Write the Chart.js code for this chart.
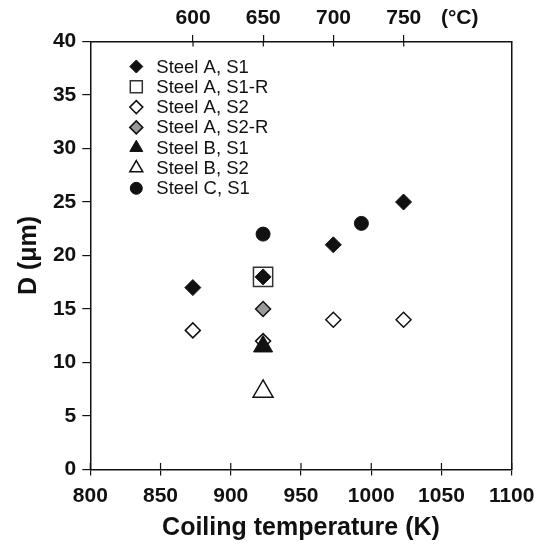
<!DOCTYPE html>
<html>
<head>
<meta charset="utf-8">
<script src="https://cdn.jsdelivr.net/npm/chart.js@4/dist/chart.umd.min.js"></script>
<style>
  html, body { margin: 0; padding: 0; background: #fff; }
  #wrap { width: 536px; height: 545px; position: relative; }
</style>
</head>
<body>
<div id="wrap"><canvas id="c"></canvas></div>
<script>
// data (x in K, y in micrometres)
var seriesNames = ['Steel A, S1', 'Steel A, S1-R', 'Steel A, S2', 'Steel A, S2-R',
                   'Steel B, S1', 'Steel B, S2', 'Steel C, S1'];
var steelA_S1_x = [873, 923, 973, 1023];
var steelA_S1_y = [17, 18, 21, 25];
var steelA_S1R_x = [923];
var steelA_S1R_y = [18];
var steelA_S2_x = [873, 923, 973, 1023];
var steelA_S2_y = [13, 12, 14, 14];
var steelA_S2R_x = [923];
var steelA_S2R_y = [15];
var steelB_S1_x = [923];
var steelB_S1_y = [11.5];
var steelB_S2_x = [923];
var steelB_S2_y = [7.3];
var steelC_S1_x = [923, 993];
var steelC_S1_y = [22, 23];

var bottomTicks = [800, 850, 900, 950, 1000, 1050, 1100];
var leftTicks = [0, 5, 10, 15, 20, 25, 30, 35, 40];
var topTicksC = [600, 650, 700, 750];
var topUnit = '(°C)';

function pts(xs, ys) {
  return xs.map(function (x, i) { return { x: x, y: ys[i] }; });
}

var FONT = "'Liberation Sans', Arial, Helvetica, sans-serif";
var INK = '#111';

// dataset 0 ends up on top, so the order here is the stacking order
var datasets = [
  { label: seriesNames[1], data: pts(steelA_S1R_x, steelA_S1R_y), pointStyle: 'rect', pointRadius: 13.6,
    backgroundColor: 'rgba(0,0,0,0)', borderColor: '#333', borderWidth: 1.5, legendRadius: 8.5 },
  { label: seriesNames[0], data: pts(steelA_S1_x, steelA_S1_y), pointStyle: 'rectRot', pointRadius: 8,
    backgroundColor: INK, borderColor: INK, borderWidth: 1, legendRadius: 6.5 },
  { label: seriesNames[4], data: pts(steelB_S1_x, steelB_S1_y), pointStyle: 'triangle', pointRadius: 11,
    backgroundColor: INK, borderColor: INK, borderWidth: 1, legendRadius: 7.5 },
  { label: seriesNames[2], data: pts(steelA_S2_x, steelA_S2_y), pointStyle: 'rectRot', pointRadius: 7.5,
    backgroundColor: '#fff', borderColor: INK, borderWidth: 1.5, legendRadius: 6.5 },
  { label: seriesNames[3], data: pts(steelA_S2R_x, steelA_S2R_y), pointStyle: 'rectRot', pointRadius: 7.5,
    backgroundColor: '#999', borderColor: INK, borderWidth: 1.5, legendRadius: 6.5 },
  { label: seriesNames[5], data: pts(steelB_S2_x, steelB_S2_y), pointStyle: 'triangle', pointRadius: 11.5,
    backgroundColor: '#fff', borderColor: INK, borderWidth: 1.5, legendRadius: 7.5 },
  { label: seriesNames[6], data: pts(steelC_S1_x, steelC_S1_y), pointStyle: 'circle', pointRadius: 7,
    backgroundColor: INK, borderColor: INK, borderWidth: 1, legendRadius: 6 }
];
datasets.forEach(function (d) { d.pointHoverRadius = d.pointRadius; });

// legend drawn inside the plot, in the original order
var insideLegend = {
  id: 'insideLegend',
  afterDraw: function (chart) {
    var ctx = chart.ctx;
    var area = chart.chartArea;
    var x0 = area.left + 46, y0 = area.top + 25, step = 20.3;
    ctx.save();
    ctx.font = '18.5px ' + FONT;
    ctx.textBaseline = 'middle';
    seriesNames.forEach(function (name, i) {
      var ds = chart.data.datasets.find(function (d) { return d.label === name; });
      var y = y0 + i * step;
      ctx.fillStyle = ds.backgroundColor;
      ctx.strokeStyle = ds.borderColor;
      ctx.lineWidth = ds.borderWidth;
      Chart.helpers.drawPoint(ctx, { pointStyle: ds.pointStyle, radius: ds.legendRadius, rotation: 0, borderWidth: ds.borderWidth }, x0, y);
      ctx.fillStyle = INK;
      ctx.fillText(name, x0 + 20, y + 1);
    });
    ctx.restore();
  }
};

// the x ticks cross the frame: draw the inner part of each one
var innerTicks = {
  id: 'innerTicks',
  afterDraw: function (chart) {
    var ctx = chart.ctx;
    var area = chart.chartArea;
    ctx.save();
    ctx.strokeStyle = INK;
    ctx.lineWidth = 1.2;
    ctx.beginPath();
    chart.scales.x.ticks.forEach(function (t) {
      var px = chart.scales.x.getPixelForValue(t.value);
      ctx.moveTo(px, area.bottom);
      ctx.lineTo(px, area.bottom - 6.5);
    });
    topValuesK.forEach(function (v) {
      var px = chart.scales.x2.getPixelForValue(v);
      ctx.moveTo(px, area.top);
      ctx.lineTo(px, area.top + 5);
    });
    ctx.stroke();
    ctx.restore();
  }
};

var topValuesK = topTicksC.map(function (c) { return c + 273.15; });
var unitPosK = 1063;

// fixed box sizes, and no extra side padding for the end labels
function fitH(h) {
  return function (s) { s.height = h; s.paddingLeft = 0; s.paddingRight = 0; };
}

new Chart(document.getElementById('c'), {
  type: 'scatter',
  data: { datasets: datasets },
  options: {
    responsive: true,
    maintainAspectRatio: false,
    animation: false,
    layout: { padding: 0 },
    plugins: { legend: { display: false }, tooltip: { enabled: false } },
    scales: {
      x: {
        type: 'linear', position: 'bottom', min: 800, max: 1100,
        afterBuildTicks: function (s) { s.ticks = bottomTicks.map(function (v) { return { value: v }; }); },
        afterFit: fitH(75.5),
        grid: { drawOnChartArea: false, color: INK, tickLength: 6, lineWidth: 1.2 },
        border: { color: INK, width: 1.5 },
        ticks: { color: INK, font: { family: FONT, size: 21, weight: 'bold' }, padding: 8, maxRotation: 0,
                 callback: function (v) { return String(v); } },
        title: { display: true, text: 'Coiling temperature (K)', color: INK,
                 font: { family: FONT, size: 25, weight: 'bold' }, padding: { top: 0, bottom: 2 } }
      },
      x2: {
        type: 'linear', position: 'top', min: 800, max: 1100,
        afterBuildTicks: function (s) {
          s.ticks = topValuesK.concat([unitPosK]).map(function (v) { return { value: v }; });
        },
        afterFit: fitH(41.5),
        grid: { drawOnChartArea: false, tickLength: 6.5, lineWidth: 1.2,
                color: function (c) { return c.index < topTicksC.length ? INK : 'rgba(0,0,0,0)'; } },
        border: { color: INK, width: 1.5 },
        ticks: { color: INK, font: { family: FONT, size: 21, weight: 'bold' }, padding: 4.5, maxRotation: 0,
                 callback: function (v, i) { return i < topTicksC.length ? String(topTicksC[i]) : topUnit; } }
      },
      y: {
        type: 'linear', position: 'left', min: 0, max: 40,
        afterBuildTicks: function (s) { s.ticks = leftTicks.map(function (v) { return { value: v }; }); },
        afterFit: function (s) { s.width = 90.3; s.paddingTop = 0; s.paddingBottom = 0; },
        grid: { drawOnChartArea: false, color: INK, tickLength: 8, lineWidth: 1.2 },
        border: { color: INK, width: 1.5 },
        ticks: { color: INK, font: { family: FONT, size: 21, weight: 'bold' }, padding: 6 },
        title: { display: true, text: 'D (μm)', color: INK,
                 font: { family: FONT, size: 25, weight: 'bold' }, padding: { top: 14, bottom: 0 } }
      },
      y2: {
        type: 'linear', position: 'right', min: 0, max: 40,
        afterFit: function (s) { s.width = 24.3; },
        grid: { drawOnChartArea: false, display: false },
        border: { color: INK, width: 1.5 },
        ticks: { display: false }
      }
    }
  },
  plugins: [insideLegend, innerTicks]
});
</script>
</body>
</html>
